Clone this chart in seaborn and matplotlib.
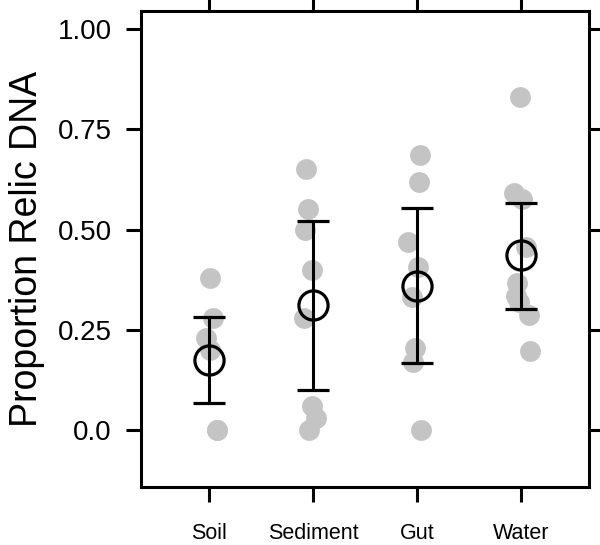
import numpy as np
import pandas as pd
import matplotlib
matplotlib.use("Agg")
import matplotlib.pyplot as plt
import seaborn as sns

# Raw proportions per habitat
soil = [0.38, 0.28, 0.23, 0.20, 0.0, 0.0]
sediment = [0.65, 0.55, 0.50, 0.40, 0.28, 0.06, 0.03, 0.0]
gut = [0.686, 0.619, 0.469, 0.407, 0.332, 0.204, 0.170, 0.0]
water = [0.83, 0.59, 0.575, 0.457, 0.366, 0.335, 0.32, 0.287, 0.197]

habitats = ["Soil", "Sediment", "Gut", "Water"]

# Means and interval limits shown as open circles with bars
means = [0.175, 0.312, 0.359, 0.436]
lower = [0.067, 0.100, 0.167, 0.302]
upper = [0.282, 0.521, 0.553, 0.566]

yticks = [0.0, 0.25, 0.50, 0.75, 1.00]
ytick_labels = ["0.0", "0.25", "0.50", "0.75", "1.00"]

df = pd.DataFrame({
    "Habitat": ["Soil"] * len(soil) + ["Sediment"] * len(sediment)
               + ["Gut"] * len(gut) + ["Water"] * len(water),
    "Proportion": soil + sediment + gut + water,
})

sns.set_theme(style="ticks")
plt.rcParams["font.family"] = ["Liberation Sans", "DejaVu Sans"]
plt.rcParams["text.color"] = "black"
plt.rcParams["axes.labelcolor"] = "black"

fig = plt.figure(figsize=(6, 5.45), dpi=100)
ax = fig.add_axes([0.235, 0.1064, 0.747, 0.8736])

np.random.seed(3)
sns.stripplot(data=df, x="Habitat", y="Proportion", order=habitats,
              color="#c4c4c4", size=15, jitter=0.09, linewidth=0, ax=ax, zorder=1)

means = np.array(means)
yerr = np.vstack([means - np.array(lower), np.array(upper) - means])
ax.errorbar(range(len(habitats)), means, yerr=yerr, fmt="o", ms=21,
            mfc="none", mec="black", mew=2.3, ecolor="black",
            elinewidth=2.2, capsize=11.5, capthick=2.2, zorder=3)

ax.set_xlim(-0.66, 3.66)
ax.set_ylim(-0.142, 1.045)
ax.set_yticks(yticks)
ax.set_yticklabels(ytick_labels)
ax.set_xlabel("")
ax.set_ylabel("Proportion Relic DNA", fontsize=27, labelpad=9, color="black")

for side in ["left", "right", "top", "bottom"]:
    ax.spines[side].set_visible(True)
    ax.spines[side].set_linewidth(2.2)
    ax.spines[side].set_color("black")

ax.tick_params(axis="y", which="both", direction="out", length=11, width=2.2,
               left=True, right=True, labelsize=20, pad=10, colors="black")
ax.tick_params(axis="x", which="both", direction="out", length=11, width=2.2,
               bottom=True, top=True, labelsize=15.5, pad=15, colors="black")

fig.savefig("out.png", dpi=100)
